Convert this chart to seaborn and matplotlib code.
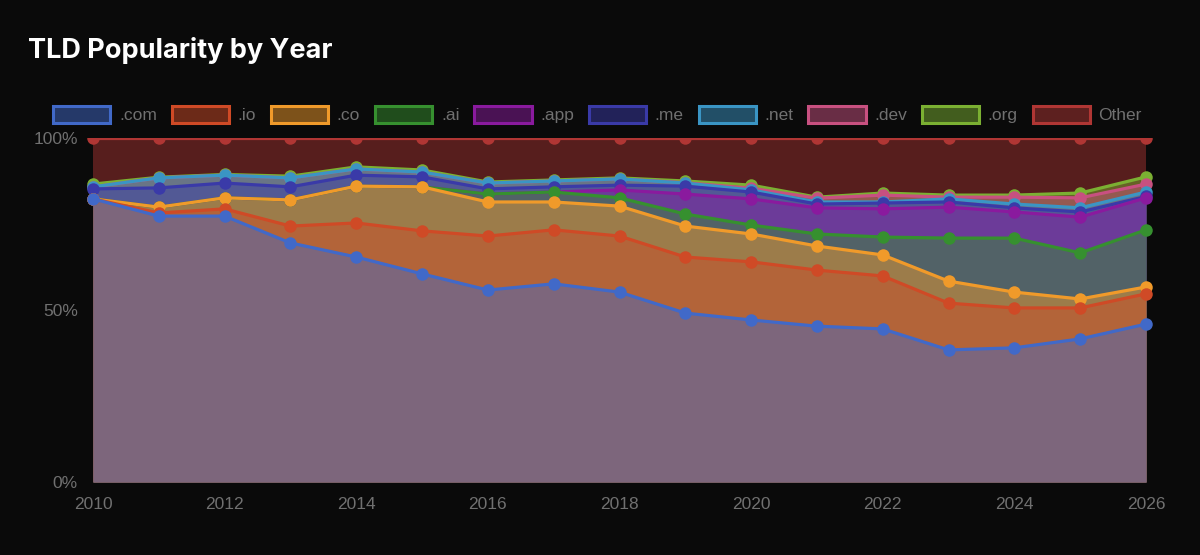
import matplotlib
matplotlib.use("Agg")
import matplotlib.pyplot as plt
from matplotlib.colors import to_rgba
from matplotlib.patches import Patch, Rectangle
import numpy as np
import pandas as pd
import seaborn as sns

years = list(range(2010, 2027))

# share of each TLD per year, in percent
com = [82.3, 77.3, 77.3, 69.5, 65.4, 60.5, 55.8, 57.6, 55.2, 49.1, 47.1, 45.3, 44.5, 38.4, 39.0, 41.6, 45.9]
io = [0, 0.9, 2.1, 4.9, 9.9, 12.5, 15.7, 15.7, 16.3, 16.3, 16.9, 16.3, 15.4, 13.6, 11.6, 9.0, 8.8]
co = [0, 1.7, 3.2, 7.6, 10.7, 12.8, 9.9, 8.1, 8.7, 9.0, 8.1, 7.0, 6.1, 6.4, 4.6, 2.6, 2.0]
ai = [0, 0, 0, 0, 0, 0, 2.3, 2.9, 2.4, 3.5, 2.6, 3.5, 5.2, 12.5, 15.7, 13.4, 16.6]
app = [0, 0, 0, 0, 0, 0, 0, 0, 2.3, 5.8, 7.6, 7.6, 8.2, 9.0, 7.6, 10.4, 9.3]
me = [2.9, 5.6, 4.3, 3.8, 3.2, 2.9, 1.5, 1.5, 1.4, 2.3, 2.0, 1.1, 1.7, 1.5, 1.2, 1.5, 0.4]
net = [0.6, 2.9, 2.3, 2.6, 1.8, 1.4, 1.7, 1.7, 1.8, 0.9, 0.6, 0.6, 0.3, 0.9, 1.1, 1.2, 1.3]
dev = [0, 0, 0, 0, 0, 0, 0, 0, 0, 0.1, 0.5, 1.1, 2.0, 0.5, 2.0, 2.9, 2.3]
org = [0.8, 0.2, 0.2, 0.5, 0.6, 0.6, 0.3, 0.3, 0.3, 0.5, 0.9, 0.3, 0.6, 0.6, 0.6, 1.4, 2.1]
other = [13.4, 11.4, 10.6, 11.1, 8.4, 9.3, 12.8, 12.2, 11.6, 12.5, 13.7, 17.2, 16.0, 16.6, 16.6, 16.0, 11.3]

names = [".com", ".io", ".co", ".ai", ".app", ".me", ".net", ".dev", ".org", "Other"]
colors = ["#4169c8", "#cf4a26", "#f09a2a", "#36902f", "#8a1a9e",
          "#3a3aa8", "#3a95c4", "#c85080", "#7bb032", "#b03634"]

BG = "#0a0a0a"
GREY = "#707070"

shares = pd.DataFrame(dict(zip(names, [com, io, co, ai, app, me, net, dev, org, other])), index=years)
shares = shares.div(shares.sum(axis=1), axis=0) * 100
tops = shares.cumsum(axis=1)
tops.index.name = "year"
long = tops.reset_index().melt(id_vars="year", var_name="tld", value_name="top")

sns.set_theme(style="dark")
plt.rcParams["font.family"] = ["Liberation Sans", "DejaVu Sans"]

fig = plt.figure(figsize=(12, 5.55), dpi=100, facecolor=BG)
ax = fig.add_axes([93 / 1200, 1 - 482 / 555, (1146 - 93) / 1200, (482 - 138) / 555], facecolor=BG)

# last series is painted first, so .com ends up on top
for name, color in reversed(list(zip(names, colors))):
    ax.fill_between(years, 0, tops[name], color=color, alpha=0.47, linewidth=0, zorder=1)

sns.lineplot(data=long, x="year", y="top", hue="tld", hue_order=names[::-1],
             palette=dict(zip(names, colors)), marker="o", markersize=9,
             markeredgewidth=0, linewidth=2.3, legend=False, ax=ax, zorder=3)

# markers may stick out sideways but get cut at the 100% line
clip = Rectangle((-0.02, -0.02), 1.04, 1.02, transform=ax.transAxes)
for line in ax.get_lines():
    line.set_clip_path(clip)

ax.set_xlim(2010, 2026)
ax.set_ylim(0, 100)
ax.set_xticks(years[::2])
ax.set_yticks([0, 50, 100])
ax.set_yticklabels(["0%", "50%", "100%"])
ax.set_xlabel("")
ax.set_ylabel("")
ax.grid(False)
ax.tick_params(axis="x", colors=GREY, labelsize=12.5, length=0, pad=11)
ax.tick_params(axis="y", colors=GREY, labelsize=12.5, length=0, pad=11)
sns.despine(ax=ax, left=True, bottom=True)

handles = [Patch(facecolor=to_rgba(c, 0.5), edgecolor=c, linewidth=2.2, label=n)
           for n, c in zip(names, colors)]
ax.legend(handles=handles, ncol=10, loc="center", bbox_to_anchor=(597.5 / 1200, 1 - 114.5 / 555),
          bbox_transform=fig.transFigure, frameon=False, fontsize=12.5, labelcolor=GREY,
          handlelength=3.3, handleheight=1.15, handletextpad=0.5, columnspacing=0.85,
          borderpad=0, borderaxespad=0)

fig.text(28 / 1200, 1 - 50 / 555, "TLD Popularity by Year", color="white", fontsize=19.5,
         fontweight="bold", family="Inter", va="center", ha="left")

fig.savefig("out.png", dpi=100, facecolor=BG)
